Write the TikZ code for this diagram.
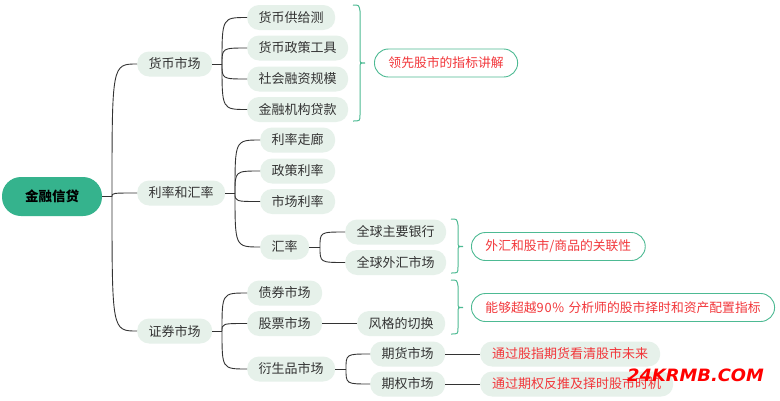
\documentclass[tikz,border=0pt]{standalone}
\usepackage{fontspec}
\setmainfont{Noto Sans CJK SC}
\newfontfamily\wmfont{DejaVu Sans}
\definecolor{rootgreen}{HTML}{35B38D}
\definecolor{nodefill}{HTML}{E6F1EA}
\definecolor{txtdark}{HTML}{333333}
\definecolor{linecol}{HTML}{333333}
\definecolor{bracecol}{HTML}{4DBA93}
\definecolor{notered}{HTML}{F2363A}
\tikzset{
  rootbox/.style={fill=rootgreen, rounded corners=19pt, minimum height=39pt, minimum width=100pt, inner sep=0pt, font=\fontsize{13.5}{15}\selectfont\bfseries, text=black},
  topic/.style={fill=nodefill, rounded corners=12pt, minimum height=25pt, inner xsep=11.5pt, inner ysep=0pt, font=\fontsize{13}{15}\selectfont, text=txtdark, anchor=west},
  callout/.style={draw=bracecol, line width=0.9pt, fill=white, rounded corners=14pt, minimum height=28pt, inner xsep=14pt, inner ysep=0pt, font=\fontsize{12.8}{15}\selectfont, text=notered, anchor=west},
  notebox/.style={topic, text=notered, inner xsep=12pt},
  conn/.style={draw=linecol, line width=0.9pt},
  bracestyle/.style={draw=bracecol, line width=1pt},
}
\newcommand{\mybrace}[4]{% x0, ytop, ymid, ybot
  \draw[bracestyle] (#1,#2) .. controls (#1+6,#2) .. (#1+7,#2+6) -- (#1+7,#3-5) .. controls (#1+7,#3) .. (#1+12,#3) .. controls (#1+7,#3) .. (#1+7,#3+5) -- (#1+7,#4-6) .. controls (#1+7,#4) .. (#1,#4);}
\begin{document}
\begin{tikzpicture}[x=1pt,y=-1pt]
\useasboundingbox (0,0) rectangle (780,400);
\fill[white] (0,0) rectangle (780,400);

% root
\node[rootbox] (root) at (52,196.5) {金融信贷};

% level 1
\node[topic] (hb) at (137,64) {货币市场};
\node[topic] (ll) at (137,193) {利率和汇率};
\node[topic] (zq) at (137,331) {证券市场};

% level 2 under 货币市场
\node[topic] (a1) at (247,17.5) {货币供给测};
\node[topic] (a2) at (247,48) {货币政策工具};
\node[topic] (a3) at (247,79) {社会融资规模};
\node[topic] (a4) at (247,109.5) {金融机构贷款};

% under 利率和汇率
\node[topic] (b1) at (260,140) {利率走廊};
\node[topic] (b2) at (260,171) {政策利率};
\node[topic] (b3) at (260,201.5) {市场利率};
\node[topic] (b4) at (260,247) {汇率};
\node[topic] (c1) at (345,232) {全球主要银行};
\node[topic] (c2) at (345,262.5) {全球外汇市场};

% under 证券市场
\node[topic] (d1) at (247,293) {债券市场};
\node[topic] (d2) at (247,323.5) {股票市场};
\node[topic] (d3) at (247,369) {衍生品市场};
\node[topic] (e1) at (357,323.5) {风格的切换};
\node[topic] (f1) at (370,354) {期货市场};
\node[topic] (f2) at (370,384) {期权市场};
\node[notebox] (g1) at (480,354) {通过股指期货看清股市未来};
\node[notebox] (g2) at (480,384) {通过期权反推及择时股市时机};

% callouts
\node[callout] (k1) at (374,63) {领先股市的指标讲解};
\node[callout] (k2) at (471,246.5) {外汇和股市/商品的关联性};
\node[callout] (k3) at (471,307.5) {能够超越9\kern0.8pt0\kern0.8pt\% \kern1.5pt分析师的股市择时和资产配置指标};

% braces
\mybrace{353}{5}{63}{121}
\mybrace{451}{219}{246.5}{273}
\mybrace{451}{280}{307.5}{334}

% connectors
\coordinate (r0) at (112,196.5);
\draw[conn] (root.east) -- (r0);
\foreach \t in {hb,ll,zq}
  \draw[conn] (r0) .. controls (r0 |- \t.west) .. (\t.west);

\coordinate (h0) at (222,64);
\draw[conn] (hb.east) -- (h0);
\foreach \t in {a1,a2,a3,a4}
  \draw[conn] (h0) .. controls (h0 |- \t.west) .. (\t.west);

\coordinate (l0) at (235,193);
\draw[conn] (ll.east) -- (l0);
\foreach \t in {b1,b2,b3,b4}
  \draw[conn] (l0) .. controls (l0 |- \t.west) .. (\t.west);

\coordinate (x0) at (320,247);
\draw[conn] (b4.east) -- (x0);
\foreach \t in {c1,c2}
  \draw[conn] (x0) .. controls (x0 |- \t.west) .. (\t.west);

\coordinate (z0) at (222,331);
\draw[conn] (zq.east) -- (z0);
\foreach \t in {d1,d2,d3}
  \draw[conn] (z0) .. controls (z0 |- \t.west) .. (\t.west);

\draw[conn] (d2.east) -- (e1.west);

\coordinate (y0) at (346,369);
\draw[conn] (d3.east) -- (y0);
\foreach \t in {f1,f2}
  \draw[conn] (y0) .. controls (y0 |- \t.west) .. (\t.west);

\draw[conn] (f1.east) -- (g1.west);
\draw[conn] (f2.east) -- (g2.west);

% watermark
\node[anchor=west, inner sep=0pt, text=red, font=\wmfont\fontsize{17}{17}\selectfont\bfseries\itshape, xscale=1.05] (wm) at (627,375) {24KRMB.COM};
\end{tikzpicture}
\end{document}
